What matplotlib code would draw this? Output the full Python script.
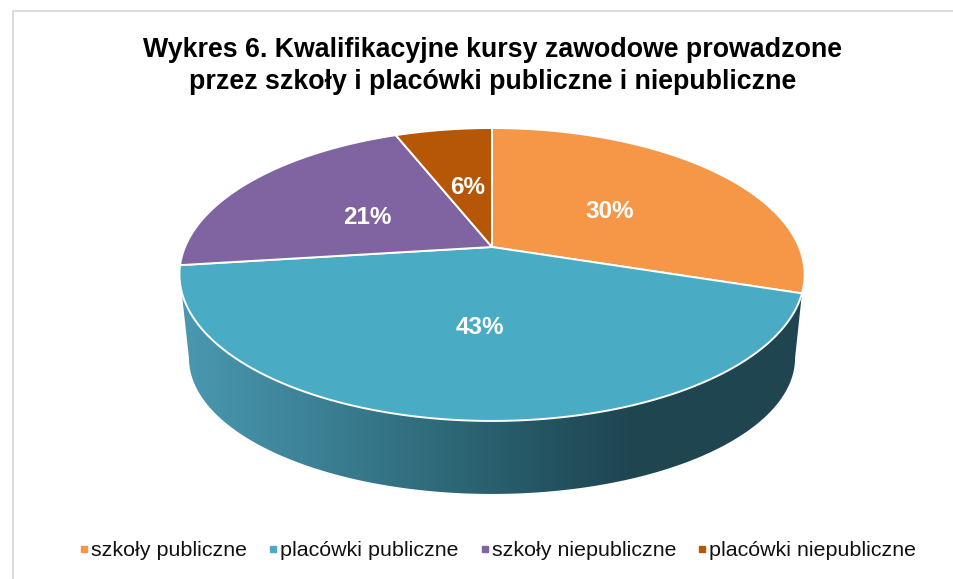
import numpy as np
import matplotlib
matplotlib.use("Agg")
import matplotlib.pyplot as plt
from matplotlib.colors import LinearSegmentedColormap
from matplotlib.lines import Line2D
from matplotlib.patches import Polygon

title = "Wykres 6. Kwalifikacyjne kursy zawodowe prowadzone\nprzez szkoły i placówki publiczne i niepubliczne"
categories = ["szkoły publiczne", "placówki publiczne", "szkoły niepubliczne", "placówki niepubliczne"]
values = [30, 43, 21, 6]
labels = ["30%", "43%", "21%", "6%"]
colors = ["#F59746", "#4AABC5", "#8064A2", "#B65708"]
label_pos = [(610, 211), (480, 327), (367, 217.5), (468, 187)]

plt.rcParams["font.family"] = ["Liberation Sans", "DejaVu Sans"]
fig = plt.figure(figsize=(9.54, 5.79), dpi=100, facecolor="white")
ax = fig.add_axes([0, 0, 1, 1])
ax.set_xlim(0, 954)
ax.set_ylim(579, 0)
ax.axis("off")

# perspective projection of the pie disc
CX, CY, K, A, B = 492.0, 247.0, 0.1877, 141.3, 307.0


def project(deg):
    t = np.radians(deg)
    x, y = np.sin(t), np.cos(t)
    d = 1 + K * y
    return CX + B * x / d, CY - A * y / d


def project_bottom(deg):
    px, py = project(deg)
    return 492 + (px - 492) * 303 / 312.5, 358 + (py - 274.5) * 136 / 146.5


# side wall with gradient
rim = np.linspace(108, 252.5, 200)
low = np.linspace(259.2, 100.8, 200)
rx, ry = project(rim)
bx, by = project_bottom(low)
side = np.column_stack([np.r_[rx, bx], np.r_[ry, by]])
stops = [(0.0, "#4A9AB2"), (0.25, "#3E8398"), (0.5, "#2F6C7C"), (0.72, "#255563"), (0.9, "#1F4551"), (1.0, "#1F4551")]
cmap = LinearSegmentedColormap.from_list("side", stops)
im = ax.imshow(np.linspace(0, 1, 512)[None, :], extent=(175, 685, 579, 0), cmap=cmap,
               aspect="auto", zorder=1)
grad = np.full((1, 2), 1.0)
im2 = ax.imshow(grad, extent=(685, 810, 579, 0), cmap=cmap, vmin=0, vmax=1, aspect="auto", zorder=1)
clip = Polygon(side, closed=True, transform=ax.transData, fc="none", ec="none")
ax.add_patch(clip)
im.set_clip_path(clip)
im2.set_clip_path(clip)
ax.set_xlim(0, 954)
ax.set_ylim(579, 0)

# top of the pie
start = 0.0
total = sum(values)
for v, c in zip(values, colors):
    end = start + 360.0 * v / total
    th = np.linspace(start, end, 200)
    px, py = project(th)
    ax.fill(np.r_[CX, px], np.r_[CY, py], facecolor=c, edgecolor="white", linewidth=1.4,
            joinstyle="round", zorder=3)
    start = end

for text, (x, y) in zip(labels, label_pos):
    ax.text(x, y, text, color="white", fontsize=17.5, fontweight="bold", ha="center", va="center", zorder=4)

ax.text(493, 66, title, fontsize=19.3, fontweight="bold", color="black", ha="center", va="center",
        linespacing=1.33, zorder=5)

# chart frame
ax.plot([954, 13, 13], [10.5, 10.5, 579], color="#D9D9D9", lw=1.3, zorder=0, clip_on=False)

handles = [Line2D([], [], linestyle="none", marker="s", markersize=4, color=c) for c in colors]
leg = ax.legend(handles, categories, loc="center", bbox_to_anchor=(497.5 / 954, 1 - 551 / 579),
                ncol=4, frameon=False, fontsize=15.4, labelcolor="#111111",
                handlelength=0.5, handletextpad=0.08, columnspacing=0.97, borderpad=0, borderaxespad=0)

fig.savefig("out.png", dpi=100, facecolor="white")
